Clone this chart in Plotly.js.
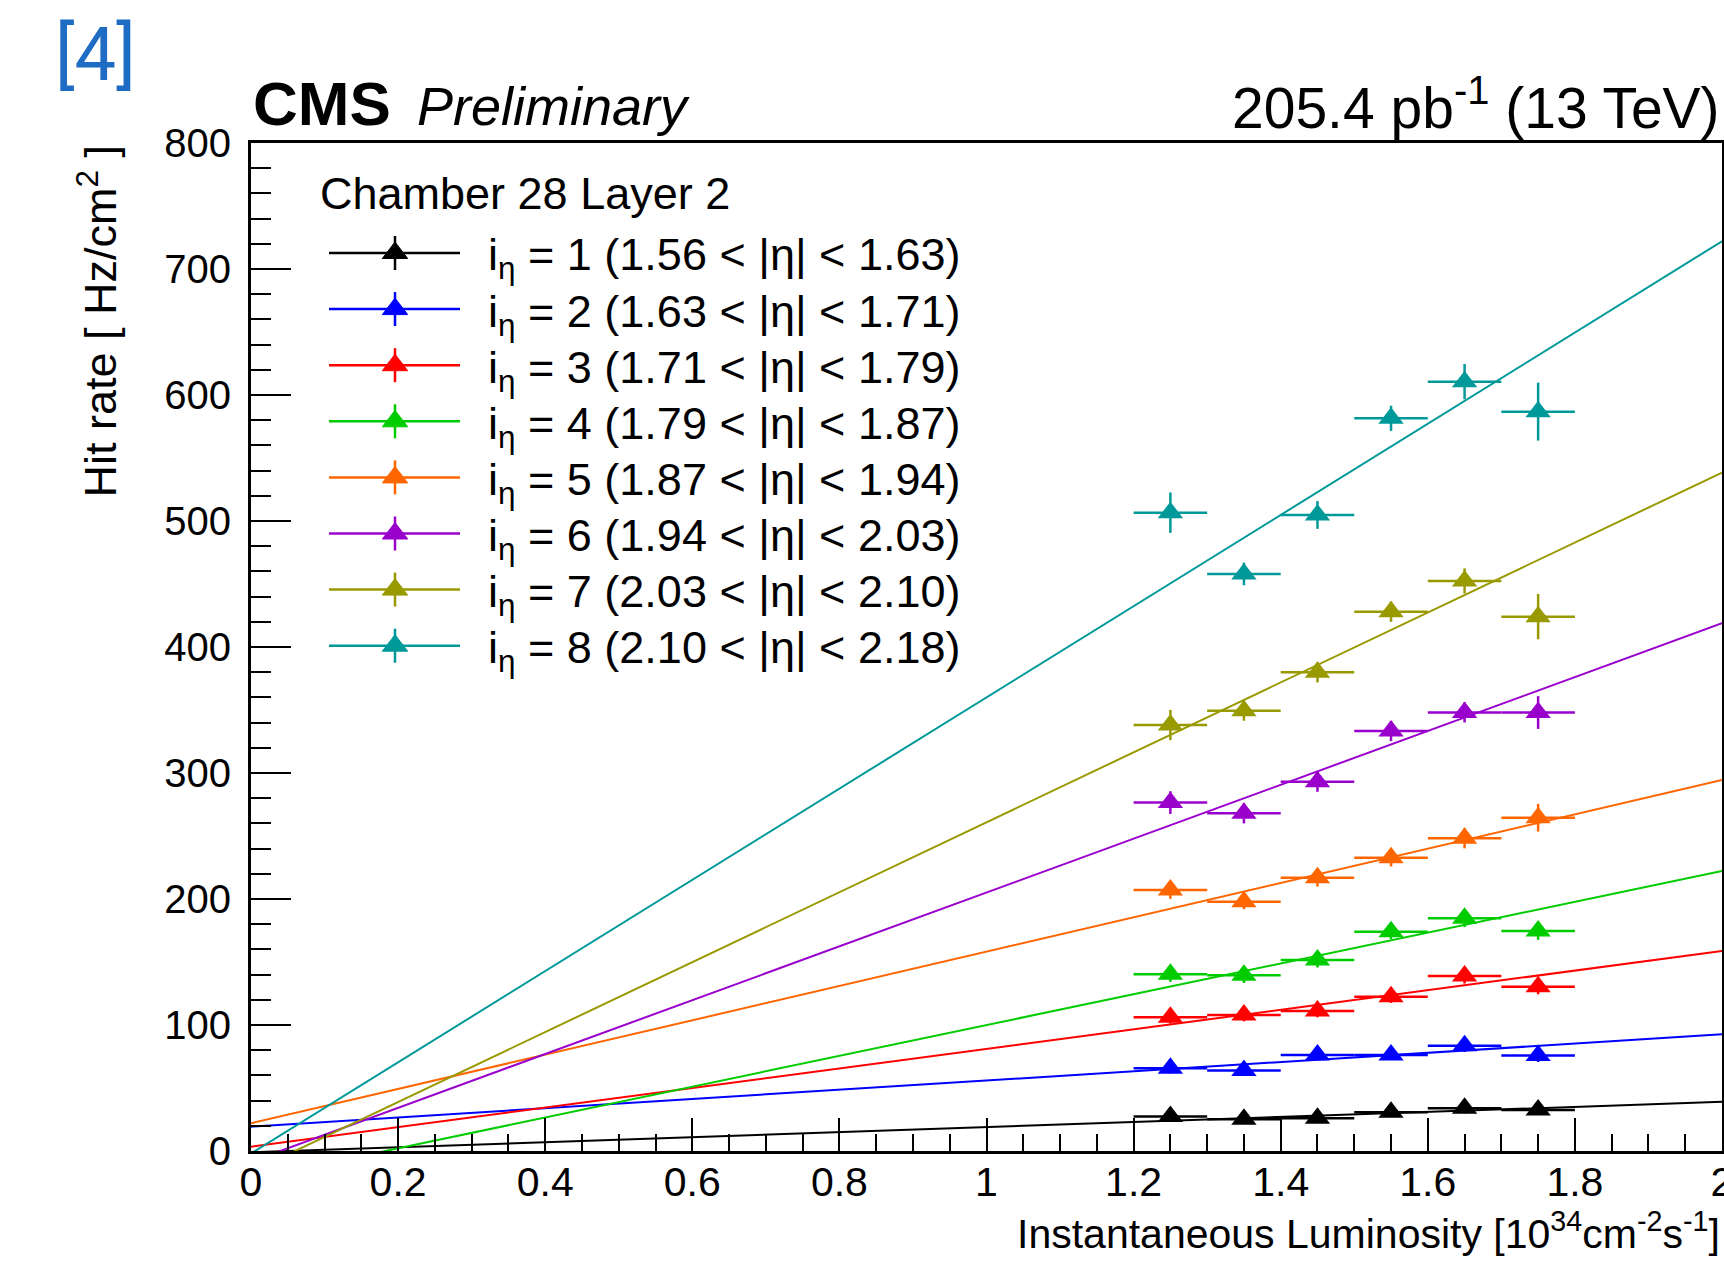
<!DOCTYPE html>
<html>
<head>
<meta charset="utf-8">
<script src="https://cdn.plot.ly/plotly-3.0.1.min.js"></script>
<style>
html,body{margin:0;padding:0;background:#ffffff;}
#chart{width:1724px;height:1262px;}
</style>
</head>
<body>
<div id="chart"></div>
<script>
// ---------------- data ----------------
const lumiBins   = [1.25, 1.35, 1.45, 1.55, 1.65, 1.75];
const lumiErr    = [0.05, 0.05, 0.05, 0.05, 0.05, 0.05];

const rateEta1 = [27.3, 25.2, 26.0, 30.7, 33.9, 32.5];
const rateEta2 = [65.6, 63.8, 76.2, 76.2, 83.6, 75.7];
const rateEta3 = [106.1, 107.9, 111.1, 122.5, 138.9, 130.4];
const rateEta4 = [140.2, 139.4, 151.6, 174.1, 184.7, 174.6];
const rateEta5 = [207.1, 197.9, 216.9, 232.8, 248.2, 264.5];
const rateEta6 = [276.5, 268.0, 293.1, 333.3, 348.1, 348.0];
const rateEta7 = [338.1, 349.5, 379.9, 428.0, 452.4, 424.1];
const rateEta8 = [506.6, 458.0, 504.8, 581.5, 610.6, 586.8];

const errEta1 = [3, 3, 3, 3, 4, 3];
const errEta2 = [4, 4, 4, 4, 5, 5];
const errEta3 = [5, 5, 5, 5, 6, 6];
const errEta4 = [6, 6, 6, 6, 7, 7];
const errEta5 = [7, 6, 7, 7, 8, 11];
const errEta6 = [9, 8, 8, 8, 8, 13];
const errEta7 = [12, 8, 8, 8, 10, 18];
const errEta8 = [16, 9, 11, 10, 14, 23];

// linear fit lines: value at L = 0 and at L = 2
const fitLumi   = [0, 2];
const fitAtZero = [-1, 19.3, 3.4, -22.3, 22.0, -8.5, -16.6, -2.0];
const fitAtTwo  = [39.0, 92.6, 158.7, 222.2, 294.4, 418.8, 538.4, 722.0];

const etaEdges  = ['1.56', '1.63', '1.71', '1.79', '1.87', '1.94', '2.03', '2.10', '2.18'];
const etaIndex  = ['1', '2', '3', '4', '5', '6', '7', '8'];

const xTickVals = [0, 0.2, 0.4, 0.6, 0.8, 1, 1.2, 1.4, 1.6, 1.8, 2];
const yTickVals = [0, 100, 200, 300, 400, 500, 600, 700, 800];

const legendHeader = 'Chamber 28 Layer 2';
const lumiLabel    = '205.4 pb<sup>-1</sup> (13 TeV)';
const xTitle       = 'Instantaneous Luminosity [10<sup>34</sup>cm<sup>-2</sup>s<sup>-1</sup>]';
const yTitle       = 'Hit rate [ Hz/cm<sup>2</sup> ]';

// ---------------- styles ----------------
const colors = ['#000000', '#0000ff', '#ff0000', '#00cc00', '#ff6600', '#9900cc', '#999900', '#009999'];
const rates  = [rateEta1, rateEta2, rateEta3, rateEta4, rateEta5, rateEta6, rateEta7, rateEta8];
const errs   = [errEta1, errEta2, errEta3, errEta4, errEta5, errEta6, errEta7, errEta8];

const FONT = 'Liberation Sans, Arial, Helvetica, sans-serif';
const W = 1724, H = 1262;
const L = 251, R = 1722, T = 143, B = 1151;   // plot frame in pixels
const px = x => (x - L) / (R - L);
const py = y => (B - y) / (B - T);

// ---------------- traces ----------------
const traces = [];
for (let i = 0; i < 8; i++) {
  traces.push({
    type: 'scatter', mode: 'lines',
    x: fitLumi, y: [fitAtZero[i], fitAtTwo[i]],
    line: {color: colors[i], width: 2},
    showlegend: false, hoverinfo: 'skip'
  });
}
for (let i = 0; i < 8; i++) {
  traces.push({
    type: 'scatter', mode: 'markers',
    x: lumiBins, y: rates[i],
    marker: {symbol: 'triangle-up', size: 22, color: colors[i]},
    error_x: {type: 'data', array: lumiErr, color: colors[i], thickness: 2.5, width: 0},
    error_y: {type: 'data', array: errs[i], color: colors[i], thickness: 2.5, width: 0},
    showlegend: false
  });
}

// ---------------- legend (drawn as layout decoration) ----------------
const shapes = [];
const annotations = [];
const rowY0 = 253, rowStep = 56.1;
for (let i = 0; i < 8; i++) {
  const yy = rowY0 + i * rowStep;
  shapes.push({type: 'line', xref: 'paper', yref: 'paper',
    x0: px(329), x1: px(460), y0: py(yy), y1: py(yy),
    line: {color: colors[i], width: 2.5}});
  shapes.push({type: 'line', xref: 'paper', yref: 'paper',
    x0: px(395), x1: px(395), y0: py(yy - 17), y1: py(yy + 17),
    line: {color: colors[i], width: 2.5}});
  shapes.push({type: 'path', xref: 'paper', yref: 'paper',
    xsizemode: 'pixel', ysizemode: 'pixel',
    xanchor: px(395), yanchor: py(yy),
    path: 'M-12.7,-5.5L12.7,-5.5L0,11Z',
    fillcolor: colors[i], line: {color: colors[i], width: 1}});
  annotations.push({xref: 'paper', yref: 'paper', x: px(486), y: py(yy),
    xanchor: 'left', yanchor: 'middle', showarrow: false, yshift: -5,
    text: 'i<sub>η</sub> = ' + etaIndex[i] + ' (' + etaEdges[i] + ' &lt; |η| &lt; ' + etaEdges[i + 1] + ')',
    font: {family: FONT, size: 45, color: '#000'}});
}
annotations.push({xref: 'paper', yref: 'paper', x: px(318), y: py(193),
  xanchor: 'left', yanchor: 'middle', showarrow: false,
  text: legendHeader, font: {family: FONT, size: 45, color: '#000'}});

// header texts
annotations.push({xref: 'paper', yref: 'paper', x: px(53), y: py(54),
  xanchor: 'left', yanchor: 'middle', showarrow: false,
  text: '[4]', font: {family: 'Roboto, Liberation Sans, sans-serif', size: 74, color: '#1f6cc4'}});
annotations.push({xref: 'paper', yref: 'paper', x: 0, y: py(104),
  xanchor: 'left', yanchor: 'middle', showarrow: false,
  text: '<b>CMS</b>', font: {family: FONT, size: 62, color: '#000'}});
annotations.push({xref: 'paper', yref: 'paper', x: px(415), y: py(106),
  xanchor: 'left', yanchor: 'middle', showarrow: false,
  text: '<i>Preliminary</i>', font: {family: FONT, size: 54, color: '#000'}});
annotations.push({xref: 'paper', yref: 'paper', x: 1, y: py(104),
  xanchor: 'right', yanchor: 'middle', showarrow: false,
  text: lumiLabel, font: {family: FONT, size: 57, color: '#000'}});

// axis titles (ROOT style: aligned to the end of the axis)
annotations.push({xref: 'paper', yref: 'paper', x: 1, y: py(1231),
  xanchor: 'right', yanchor: 'middle', showarrow: false,
  text: xTitle, font: {family: FONT, size: 41, color: '#000'}});
annotations.push({xref: 'paper', yref: 'paper', x: px(97), y: 1,
  xanchor: 'center', yanchor: 'top', showarrow: false, textangle: -90,
  text: yTitle, font: {family: FONT, size: 45, color: '#000'}});

const layout = {
  width: W, height: H,
  margin: {l: L, r: W - R, t: T, b: H - B, pad: 0},
  paper_bgcolor: '#ffffff', plot_bgcolor: '#ffffff',
  showlegend: false,
  font: {family: FONT, color: '#000'},
  xaxis: {
    range: [0, 2], tickvals: xTickVals,
    showgrid: false, zeroline: false,
    showline: true, linecolor: '#000', linewidth: 3, mirror: true,
    ticks: 'inside', ticklen: 33, tickwidth: 2, tickcolor: '#000',
    minor: {dtick: 0.05, ticks: 'inside', ticklen: 17, tickwidth: 2, tickcolor: '#000', showgrid: false},
    tickfont: {family: FONT, size: 41, color: '#000'},
    ticklabelstandoff: -7,
    ticklabeloverflow: 'allow'
  },
  yaxis: {
    range: [0, 800], tickvals: yTickVals,
    showgrid: false, zeroline: false,
    showline: true, linecolor: '#000', linewidth: 3, mirror: true,
    ticks: 'inside', ticklen: 40, tickwidth: 2, tickcolor: '#000',
    minor: {dtick: 20, ticks: 'inside', ticklen: 20, tickwidth: 2, tickcolor: '#000', showgrid: false},
    tickfont: {family: FONT, size: 40, color: '#000'},
    ticklabelstandoff: 9,
    ticklabeloverflow: 'allow'
  },
  shapes: shapes,
  annotations: annotations
};

Plotly.newPlot('chart', traces, layout, {staticPlot: true, displayModeBar: false});
</script>
</body>
</html>
